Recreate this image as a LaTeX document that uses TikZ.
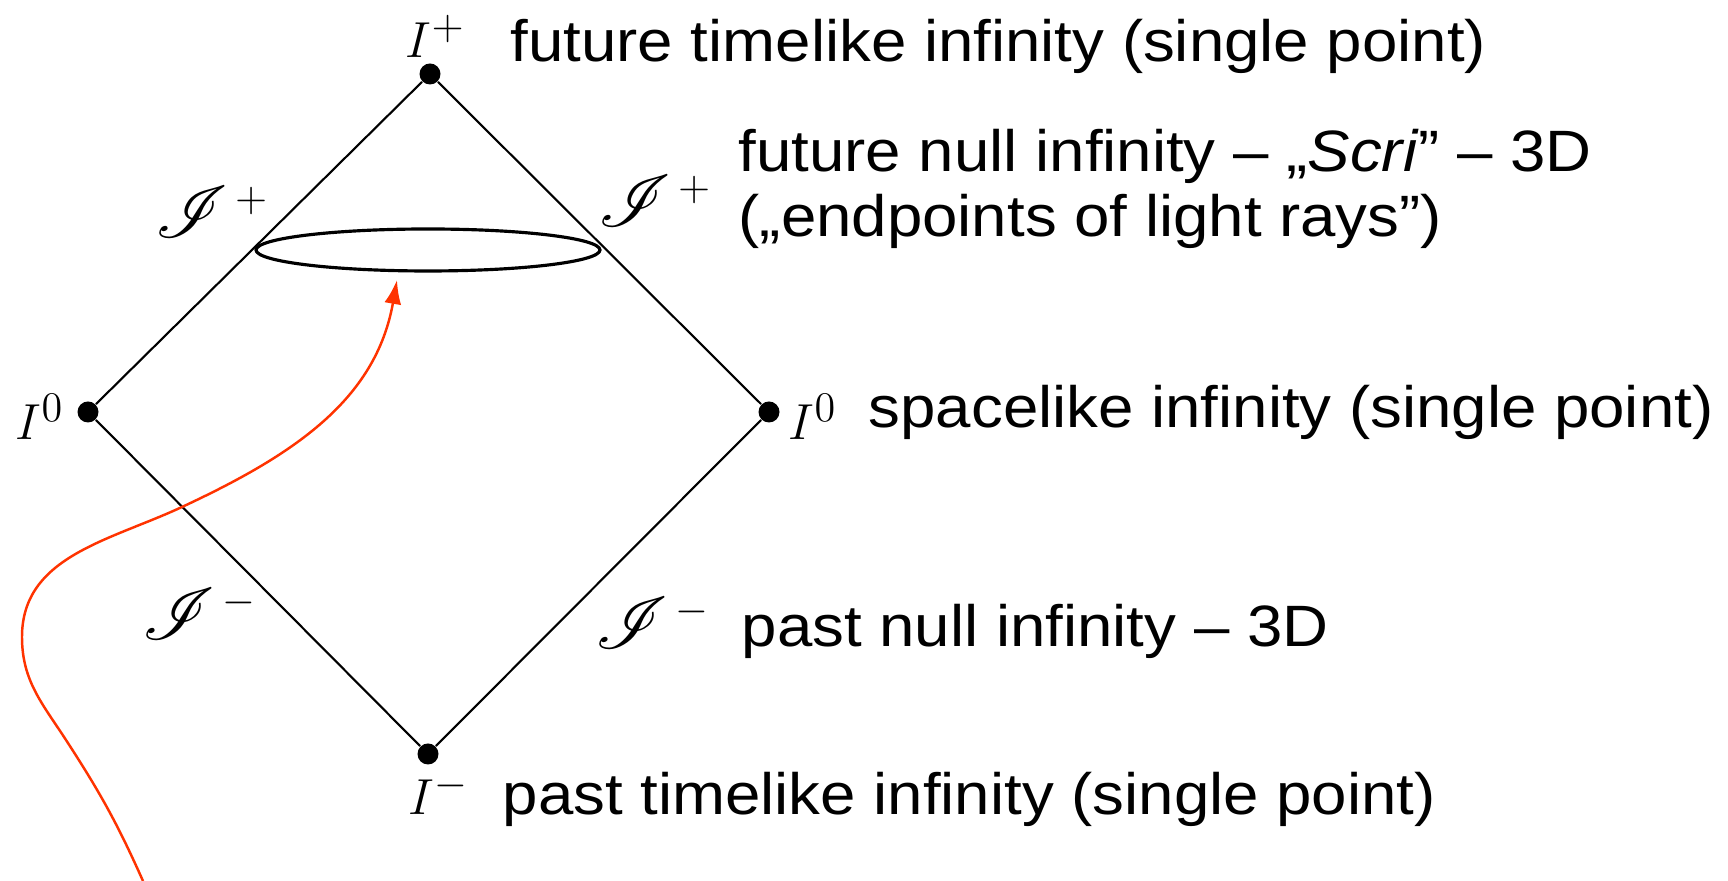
\documentclass[tikz,border=0pt]{standalone}
\usepackage{fontspec}
\setmainfont{Liberation Sans}[FakeStretch=1.09]
\usepackage{mathrsfs}
\usetikzlibrary{arrows.meta,positioning,shapes.geometric}
\definecolor{wlred}{RGB}{255,51,0}
\newcommand{\infsup}[1]{^{\mbox{\fontsize{13}{13}\selectfont$#1$}}}
\tikzset{
  infdot/.style={circle,fill=black,inner sep=0pt,minimum size=2.1mm},
  nullline/.style={line width=0.6pt,color=black},
  scrisurf/.style={ellipse,draw=black,line width=0.9pt,inner sep=0pt,minimum width=3.44cm,minimum height=0.42cm},
  worldline/.style={-{Latex[length=2.4mm,width=1.7mm]},line width=0.7pt,color=wlred},
  desc/.style={inner sep=0pt,anchor=base west,font=\fontsize{16.6}{17.4}\selectfont},
  mlbl/.style={inner sep=0pt,anchor=base west,font=\fontsize{15.5}{17}\selectfont},
  scrilbl/.style={inner sep=0pt,font=\fontsize{21}{23}\selectfont}
}

\begin{document}
\begin{tikzpicture}
  \useasboundingbox (0,0) rectangle (17.28,8.81);

  % corners of the diagram
  \node[infdot] (ip) at (4.30,8.07) {};
  \node[infdot] (il) at (0.88,4.69) {};
  \node[infdot] (ir) at (7.69,4.69) {};
  \node[infdot] (im) at (4.28,1.27) {};

  \draw[nullline] (il)--(ip); \draw[nullline] (ip)--(ir);
  \draw[nullline] (ir)--(im); \draw[nullline] (im)--(il);

  \node[scrisurf] (scri) at (4.28,6.31) {};

  % labels
  \node[mlbl] (ipl) at (4.05,8.23) {$I\infsup{+}$};
  \node[mlbl] (ill) at (0.15,4.41) {$I\infsup{0}$};
  \node[mlbl] (irl) at (7.88,4.41) {$I\infsup{0}$};
  \node[mlbl] (iml) at (4.08,0.66) {$I\infsup{-}$};
  \node[scrilbl] (jpl) at (2.12,6.69) {$\mathscr{I}\infsup{\,+}$};
  \node[scrilbl] (jpr) at (6.55,6.80) {$\mathscr{I}\infsup{\,+}$};
  \node[scrilbl] (jml) at (2.00,2.67) {$\mathscr{I}\infsup{\,-}$};
  \node[scrilbl] (jmr) at (6.53,2.58) {$\mathscr{I}\infsup{\,-}$};

  \node[desc] (ftl) at (5.10,8.19) {future timelike infinity (single point)};
  \node[desc] (fni) at (7.38,7.09) {future null infinity – „\textit{Scri}” – 3D};
  \node[desc] (fnb) at (7.38,6.44) {(„endpoints of light rays”)};
  \node[desc] (sli) at (8.68,4.53) {spacelike infinity (single point)};
  \node[desc] (pni) at (7.41,2.34) {past null infinity – 3D};
  \node[desc] (ptl) at (5.02,0.66) {past timelike infinity (single point)};

  % world line of an observer
  \coordinate (wlstart) at (1.43,0.0);
  \coordinate (wla) at (0.66,1.41);
  \coordinate (wlb) at (0.22,2.44);
  \coordinate (wlc) at (1.82,3.74);
  \coordinate (wltip) at (3.97,6.01);
  \draw[worldline] (wlstart) to[out=114,in=-57] (wla) to[out=123,in=-90] (wlb)
      to[out=90,in=-155] (wlc) to[out=25,in=-100] (wltip);
\end{tikzpicture}
\end{document}
